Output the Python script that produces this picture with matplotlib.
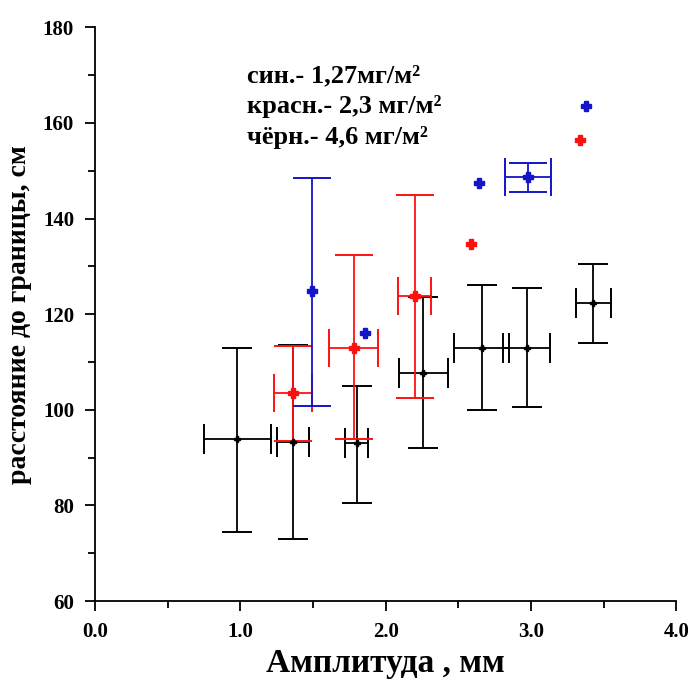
import numpy as np
import matplotlib.pyplot as plt
from matplotlib.ticker import MultipleLocator, FormatStrFormatter

# black series: 4,6 mg/m2
black_x = [0.98, 1.36, 1.80, 2.26, 2.66, 2.97, 3.43]
black_y = [94.0, 93.3, 93.0, 107.7, 113.0, 113.0, 122.3]
black_xerr = [0.23, 0.11, 0.08, 0.17, 0.19, 0.16, 0.12]
black_ylo = [74.5, 73.0, 80.5, 92.0, 100.0, 100.5, 114.0]
black_yhi = [113.0, 113.5, 105.0, 123.5, 126.0, 125.5, 130.5]

# red series: 2,3 mg/m2
red_x = [1.36, 1.78, 2.20, 2.59, 3.34]
red_y = [103.5, 113.0, 123.8, 134.6, 156.4]
red_xerr = [0.13, 0.17, 0.115, 0, 0]
red_ylo = [93.5, 94.0, 102.5, None, None]
red_yhi = [113.3, 132.3, 145.0, None, None]

# blue series: 1,27 mg/m2
blue_x = [1.49, 1.86, 2.64, 2.98, 3.38]
blue_y = [124.8, 116.0, 147.4, 148.7, 163.5]
blue_xerr = [0, 0, 0, 0.16, 0]
blue_ylo = [100.8, None, None, 145.6, None]
blue_yhi = [148.5, None, None, 151.7, None]

legend_lines = ["син.- 1,27мг/м²", "красн.- 2,3 мг/м²", "чёрн.- 4,6 мг/м²"]

plt.rcParams['font.family'] = ['Liberation Serif', 'DejaVu Serif']
plt.rcParams['font.weight'] = 'bold'

fig = plt.figure(figsize=(6.88, 6.80), dpi=100)
ax = fig.add_axes([0.138, 0.116, 0.845, 0.844])


def draw_series(xs, ys, xerrs, ylos, yhis, color, cap, ms):
    for x, y, xe, lo, hi in zip(xs, ys, xerrs, ylos, yhis):
        xerr = xe if xe else None
        yerr = None if lo is None else [[y - lo], [hi - y]]
        ax.errorbar([x], [y], xerr=xerr, yerr=yerr, fmt='P', color=color,
                    ms=ms, mec=color, mfc=color, elinewidth=1.3,
                    capsize=cap, capthick=1.4)


draw_series(black_x, black_y, black_xerr, black_ylo, black_yhi, 'black', 11, 5)
draw_series(red_x, red_y, red_xerr, red_ylo, red_yhi, '#ff1010', 14, 6.5)
draw_series(blue_x, blue_y, blue_xerr, blue_ylo, blue_yhi, '#1414c8', 14, 6.5)

ax.set_xlim(0, 4)
ax.set_ylim(60, 180)
ax.xaxis.set_major_locator(MultipleLocator(1.0))
ax.xaxis.set_minor_locator(MultipleLocator(0.5))
ax.xaxis.set_major_formatter(FormatStrFormatter('%.1f'))
ax.yaxis.set_major_locator(MultipleLocator(20))
ax.yaxis.set_minor_locator(MultipleLocator(10))
ax.tick_params(which='major', length=7, width=1.3, labelsize=15, pad=8)
ax.tick_params(which='minor', length=5, width=1.3)
for lab in ax.get_xticklabels() + ax.get_yticklabels():
    lab.set_fontweight('bold')

ax.spines['top'].set_visible(False)
ax.spines['right'].set_visible(False)
ax.spines['left'].set_linewidth(1.3)
ax.spines['bottom'].set_linewidth(1.3)

ax.set_xlabel('Амплитуда , мм', fontsize=24, fontweight='bold', labelpad=4)
ax.set_ylabel('расстояние до границы, см', fontsize=20, fontweight='bold', labelpad=8)

for i, line in enumerate(legend_lines):
    ax.text(0.262, 0.915 - i * 0.054, line, transform=ax.transAxes,
            fontsize=19, fontweight='bold', va='center', ha='left')

fig.savefig('out.png', dpi=100)
